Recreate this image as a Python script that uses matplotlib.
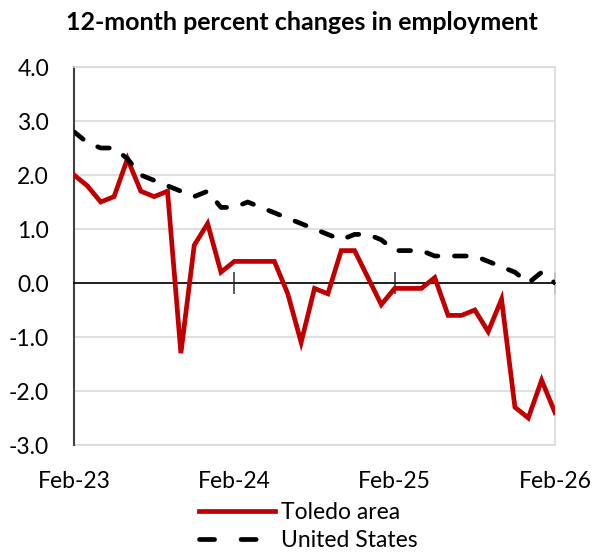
import numpy as np
import matplotlib.pyplot as plt

plt.rcParams['font.family'] = ['Lato', 'DejaVu Sans']

# monthly values, Feb-23 .. Feb-26
toledo = [2.0, 1.8, 1.5, 1.6, 2.3, 1.7, 1.6, 1.7, -1.3, 0.7, 1.1, 0.2,
          0.4, 0.4, 0.4, 0.4, -0.2, -1.1, -0.1, -0.2, 0.6, 0.6, 0.1, -0.4,
          -0.1, -0.1, -0.1, 0.1, -0.6, -0.6, -0.5, -0.9, -0.3, -2.3, -2.5, -1.8,
          -2.4]
us = [2.8, 2.6, 2.5, 2.5, 2.3, 2.0, 1.9, 1.8, 1.7, 1.6, 1.7, 1.4,
      1.4, 1.5, 1.4, 1.3, 1.2, 1.1, 1.0, 0.9, 0.8, 0.9, 0.9, 0.8,
      0.6, 0.6, 0.6, 0.5, 0.5, 0.5, 0.5, 0.4, 0.3, 0.2, 0.0, 0.2,
      0.0]
tick_pos = [0, 12, 24, 36]
tick_labels = ['Feb-23', 'Feb-24', 'Feb-25', 'Feb-26']
y_ticks = [4.0, 3.0, 2.0, 1.0, 0.0, -1.0, -2.0, -3.0]

months = np.arange(len(toledo))

fig = plt.figure(figsize=(5.93, 5.52), dpi=100)
ax = fig.add_axes([74/593, 1 - 445/552, (555-74)/593, (445-67)/552])

ax.plot(months, toledo, color='#c00000', lw=3.4, label='Toledo area',
        solid_joinstyle='miter', zorder=3)
ax.plot(months, us, color='black', lw=3.4, label='United States',
        linestyle=(0, (2.5, 3.5)), dash_capstyle='round', zorder=3)

ax.set_xlim(0, 36)
ax.set_ylim(-3, 4)
ax.set_yticks(y_ticks)
ax.set_yticklabels(['%.1f' % v for v in y_ticks], fontsize=16.5)
ax.tick_params(axis='y', length=0, pad=18)
ax.grid(axis='y', color='#d9d9d9', lw=1.2)
ax.set_axisbelow(True)

# zero axis line with the tick crosses
ax.spines['bottom'].set_position(('data', 0))
ax.spines['bottom'].set_color('black')
ax.spines['bottom'].set_linewidth(1.2)
ax.set_xticks(tick_pos)
ax.tick_params(axis='x', direction='inout', length=16, width=1.2,
               labelbottom=False, color='#404040')

# labels sit at the bottom of the plot
sec = ax.secondary_xaxis('bottom')
sec.set_xticks(tick_pos)
sec.set_xticklabels(tick_labels, fontsize=16.5)
sec.tick_params(length=0, pad=19)
sec.spines['bottom'].set_color('#d9d9d9')
sec.spines['bottom'].set_linewidth(1.2)

ax.spines['left'].set_color('#404040')
ax.spines['left'].set_linewidth(1.5)
for s in ['top', 'right']:
    ax.spines[s].set_color('#d9d9d9')
    ax.spines[s].set_linewidth(1.2)

fig.suptitle('12-month percent changes in employment', fontsize=18,
             fontweight='bold', x=0.51, y=0.98)

leg = fig.legend(loc='upper center', bbox_to_anchor=(0.52, 0.112), frameon=False,
                 fontsize=16.5, handlelength=3.3, handletextpad=0.27,
                 labelspacing=0.34, borderpad=0)
# legend dashes are drawn longer than in the plot
leg.get_lines()[1].set_dashes((3.2, 5.6))

fig.savefig('out.png', dpi=100)
